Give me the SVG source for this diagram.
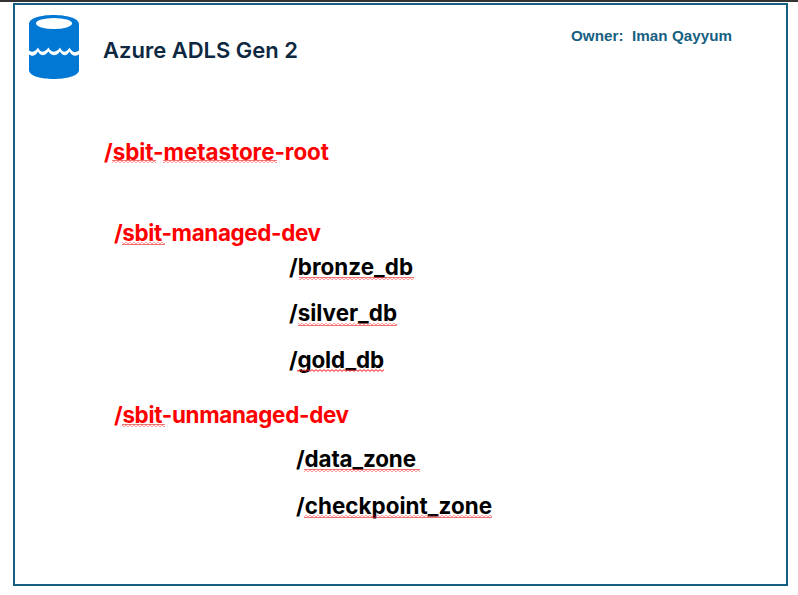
<svg xmlns="http://www.w3.org/2000/svg" width="798" height="595" viewBox="0 0 798 595">
<style>
.title{font-family:Inter,"Liberation Sans",sans-serif;font-size:22px;fill:#0e2841;font-weight:600}
.owner{font-family:"Liberation Sans",Arial,sans-serif;font-size:15.200px;fill:#156082;font-weight:700}
.red{font-family:Inter,"Liberation Sans",sans-serif;font-size:22.400px;fill:#ff0000;font-weight:700}
.blk{font-family:Inter,"Liberation Sans",sans-serif;font-size:22.400px;fill:#000;font-weight:700}
.sq{fill:url(#squiggle)}
</style>
<defs>
<pattern id="squiggle" width="4" height="3" patternUnits="userSpaceOnUse">
<path d="M0 0.7L2 2.3L4 0.7" fill="none" stroke="#f01010" stroke-width="1"/>
</pattern>
</defs>
<rect width="798" height="595" fill="#fff"/>
<rect x="0" y="0" width="798" height="2" fill="#333"/>
<rect id="frame" x="14" y="4" width="773" height="581" fill="none" stroke="#156082" stroke-width="2"/>
<g id="icon">
<path d="M29 24C29 18 41 15 53.500 15C66 15 79 18 79 24V50.500C74 53.500 72 52 69.500 47.500C67 52 63 54 60 47.500C57 52 52 54 48.500 47.500C45 52 41 54 38 47.500C35 52 32 53 29 50.500Z" fill="#0078d4"/>
<path d="M29 54.500C33 57 35 56 38 51.500C41 57 45 56 48.500 51.500C52 57 57 56 60 51.500C63 57 67 56 69.500 51.500C72 56 75 57 79 54.500V70C79 76 66 79 53.500 79C41 79 29 76 29 70Z" fill="#0078d4"/>
<ellipse cx="54" cy="23.500" rx="18" ry="5.500" fill="#fff"/>
</g>
<g id="title"><text class="title" x="103" y="58" textLength="195">Azure ADLS Gen 2</text></g>
<g id="owner"><text class="owner" x="571" y="41" xml:space="preserve" textLength="161">Owner:  Iman Qayyum</text></g>
<g id="metastore-root"><text class="red" x="104" y="160" textLength="225">/sbit-metastore-root</text>
<rect class="sq" x="112" y="160" width="44" height="3"/><rect class="sq" x="163" y="160" width="114" height="3"/></g>
<g id="managed-dev"><text class="red" x="114" y="241" textLength="207">/sbit-managed-dev</text>
<rect class="sq" x="122" y="242" width="43" height="3"/></g>
<g id="bronze-db"><text class="blk" x="289" y="275" textLength="124">/bronze_db</text>
<rect class="sq" x="299" y="277" width="115" height="3"/></g>
<g id="silver-db"><text class="blk" x="289" y="321" textLength="108">/silver_db</text>
<rect class="sq" x="298" y="323" width="99" height="3"/></g>
<g id="gold-db"><text class="blk" x="289" y="368" textLength="95">/gold_db</text>
<rect class="sq" x="297" y="369" width="87" height="3"/></g>
<g id="unmanaged-dev"><text class="red" x="114" y="423" textLength="235">/sbit-unmanaged-dev</text>
<rect class="sq" x="122" y="424" width="43" height="3"/></g>
<g id="data-zone"><text class="blk" x="296" y="467" textLength="120">/data_zone</text>
<rect class="sq" x="304" y="469" width="116" height="3"/></g>
<g id="checkpoint-zone"><text class="blk" x="296" y="514" textLength="196">/checkpoint_zone</text>
<rect class="sq" x="304" y="515" width="188" height="3"/></g>
</svg>
